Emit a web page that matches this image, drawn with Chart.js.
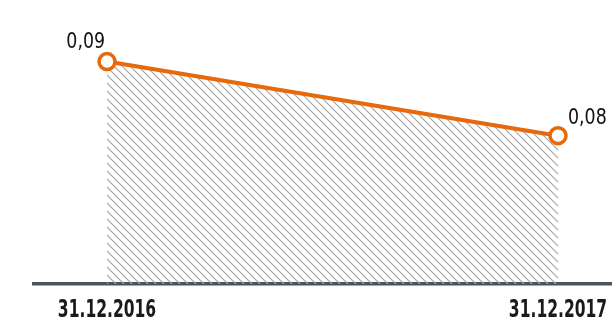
<!DOCTYPE html>
<html lang="ru">
  <head>
    <meta charset="UTF-8">
    <title>Динамика показателя</title>
    <script src="https://cdn.jsdelivr.net/npm/chart.js"></script>
    <style>
      html, body { margin: 0; padding: 0; background: #fff; }
      #wrap { width: 612px; height: 323px; }
    </style>
  </head>
  <body>
    <div id="wrap"><canvas id="myChart" width="612" height="323"></canvas></div>
    <script>
      const categories = ["31.12.2016", "31.12.2017"];
      const values = [0.09, 0.08];
      const valueLabels = ["0,09", "0,08"];

      const FONT = "'DejaVu Sans Condensed', 'Liberation Sans Narrow', sans-serif";
      const ORANGE = "#e8680c";

      // diagonal hatch for the area under the line
      function makeHatch() {
        const c = document.createElement("canvas");
        c.width = 8; c.height = 8;
        const g = c.getContext("2d");
        g.strokeStyle = "#a6a6a6";
        g.lineWidth = 1.2;
        g.beginPath();
        g.moveTo(-1, -1); g.lineTo(9, 9);
        g.moveTo(-1, 7); g.lineTo(1, 9);
        g.moveTo(7, -1); g.lineTo(9, 1);
        g.stroke();
        return g.createPattern(c, "repeat");
      }

      // narrow text: the condensed face squeezed a bit more
      function squeezedText(ctx, text, x, y, align, sx) {
        ctx.save();
        ctx.translate(x, y);
        ctx.scale(sx, 1);
        ctx.textAlign = align;
        ctx.fillText(text, 0, 0);
        ctx.restore();
      }

      // value labels next to the points, dates under the axis
      const labelsPlugin = {
        id: "labelsPlugin",
        afterDatasetsDraw(chart) {
          const ctx = chart.ctx;
          const pts = chart.getDatasetMeta(0).data;
          const xs = chart.scales.x;
          const area = chart.chartArea;
          ctx.save();
          ctx.fillStyle = "#111";
          ctx.textBaseline = "alphabetic";
          ctx.font = "21px " + FONT;
          pts.forEach((p, i) => {
            if (i === 0) {
              squeezedText(ctx, valueLabels[i], p.x - 2, p.y - 14, "right", 0.92);
            } else {
              squeezedText(ctx, valueLabels[i], p.x + 10, p.y - 12, "left", 0.92);
            }
          });
          ctx.font = "bold 24px " + FONT;
          ctx.fillStyle = "#1a1a1a";
          categories.forEach((c, i) => {
            squeezedText(ctx, c, xs.getPixelForValue(i), area.bottom + 33, "center", 0.72);
          });
          ctx.restore();
        }
      };

      const ctx = document.getElementById("myChart");
      const chart = new Chart(ctx, {
        type: "line",
        data: {
          datasets: [{
            data: values.map((v, i) => ({ x: i, y: v })),
            borderColor: ORANGE,
            borderWidth: 4,
            backgroundColor: makeHatch(),
            fill: "start",
            tension: 0,
            pointRadius: 8,
            pointHoverRadius: 8,
            pointBorderWidth: 3.5,
            pointBackgroundColor: "#fff",
            pointBorderColor: ORANGE
          }]
        },
        options: {
          responsive: false,
          animation: false,
          layout: { autoPadding: false, padding: { left: 34, top: 0, right: 0, bottom: 39 } },
          plugins: { legend: { display: false }, tooltip: { enabled: false } },
          scales: {
            x: {
              type: "linear",
              min: -0.1619,
              max: 1.1197,
              grid: { display: false, drawTicks: false },
              border: { display: true, color: "#4a5559", width: 3.5 },
              ticks: { display: false }
            },
            y: {
              display: false,
              min: 0.06,
              max: 0.0983
            }
          }
        },
        plugins: [labelsPlugin]
      });
    </script>
  </body>
</html>
